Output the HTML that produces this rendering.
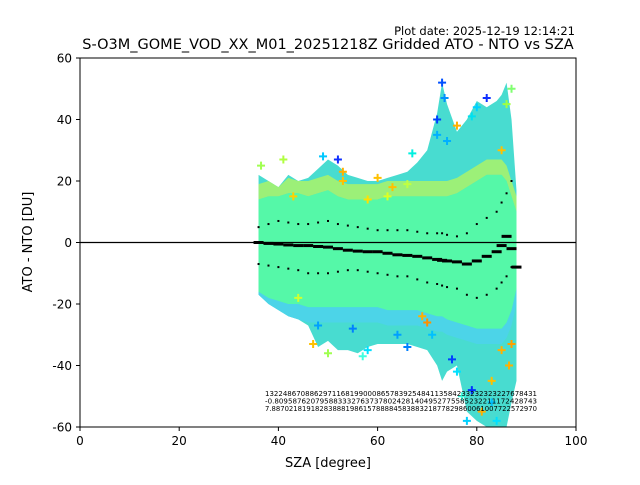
<!DOCTYPE html>
<html><head><meta charset="utf-8"><style>
body{margin:0;background:#fff;font-family:"Liberation Sans","DejaVu Sans",sans-serif}
svg text{font-family:"DejaVu Sans","Liberation Sans",sans-serif}
</style></head><body>
<svg id="c" width="640" height="480" viewBox="0 0 640 480" xmlns="http://www.w3.org/2000/svg">
<rect width="640" height="480" fill="#fff"/>
<text x="575" y="35" font-size="11.5" text-anchor="end">Plot date: 2025-12-19 12:14:21</text>
<text x="328" y="49" font-size="14.5" text-anchor="middle">S-O3M_GOME_VOD_XX_M01_20251218Z Gridded ATO - NTO vs SZA</text>
<g id="plot"></g>
<rect x="80" y="58" width="496" height="369" fill="none" stroke="#000" stroke-width="1"/>
<g id="axes"></g>
<text x="328" y="467" font-size="13" text-anchor="middle">SZA [degree]</text>
<text x="32" y="242" font-size="13" text-anchor="middle" transform="rotate(-90 32 242)">ATO - NTO [DU]</text>
</svg>
<script>
const sza      = [36,38,40,42,44,46,48,50,52,54,56,58,60,62,64,66,68,70,72,73,74,76,78,80,82,84,85,86,87,88];
const upperEnv = [22,20,18,22,20,21,24,27,25,22,21,20,20,21,22,23,26,30,42,52,45,36,40,46,44,46,48,52,40,17];
const lowerEnv = [-17,-20,-22,-24,-25,-27,-34,-32,-35,-35,-36,-34,-33,-33,-33,-33,-34,-35,-40,-45,-42,-40,-55,-58,-60,-60,-60,-60,-52,-45];
const coreUp   = [14,15,15,16,16,15,16,17,15,14,14,14,14,15,15,15,15,15,15,15,15,16,18,20,22,22,22,20,15,10];
const coreLo   = [-16,-18,-19,-20,-20,-21,-21,-21,-21,-21,-21,-21,-21,-22,-22,-22,-22,-23,-24,-24,-25,-26,-27,-28,-28,-28,-28,-26,-22,-15];
const median   = [0,-0.3,-0.5,-0.8,-1,-1,-1.3,-1.5,-2,-2.5,-2.8,-3,-3,-3.5,-4,-4.2,-4.5,-5,-5.5,-5.8,-6,-6.3,-7,-6,-4.5,-3,-1,2,-2,-8];
const stdUp    = [5,6,7,6.5,6,6,6.5,7,6,5.5,5,4.5,4,4,4,4,3.5,3,3,3,2.5,2,3,6,8,10,13,16,20,0];
const stdLo    = [-7,-7.5,-8,-8.5,-9,-10,-10,-10,-9.5,-9,-9,-9.5,-10,-10.5,-11,-11,-12,-13,-13.5,-14,-14.5,-15,-17,-18,-17,-15,-13,-11,-8,0];
const outX = [36.5,41,43,47,49,50,52,53,55,57,58,60,62,64,66,67,69,71,72,73,73.5,74,75,76,77,78,79,80,81,82,83,84,85,86,86.5,87,48,53,58,63,70,72,76,79,83,85,87,44,66];
const outY = [25,27,15,-33,28,-36,27,23,-28,-37,-35,21,15,-30,-34,29,-24,-30,40,52,47,33,-38,-42,-50,-58,41,44,-55,47,-52,-58,30,45,-40,50,-27,20,14,18,-26,35,38,-48,-45,-35,-33,-18,19];
const outC = ["#a0ff50","#b0ff40","#ffd000","#ffc000","#00c8ff","#a0ff50","#1030ff","#ffb000","#0080ff","#40ffe0","#00e0ff","#ffc000","#e0ff20","#00a0ff","#0080ff","#00f0e0","#ffb000","#00c0ff","#0040ff","#0050ff","#0090ff","#00b0ff","#0040ff","#00e0ff","#40ffe0","#00d0ff","#00e0f0","#00d0ff","#ffb000","#1030ff","#00c0ff","#00e0ff","#ffc000","#a0ff40","#ffb000","#80ff70","#00a0ff","#ffc000","#ffe000","#ffc000","#ff9000","#00b0ff","#ffb000","#0030ff","#ffc000","#ffb000","#ffa000","#d0ff30","#c0ff40"];
const xTicks = [0,20,40,60,80,100];
const yTicks = [-60,-40,-20,0,20,40,60];
const statRows = ["1322486708862971168199000865783925484113584233232323227678431","-0.8095876207958833327637378024281404952775585232211172428743","7.8870218191828388819861578888458388321877829860061007722572970"];

const NS="http://www.w3.org/2000/svg";
const X=v=>80+v*4.96, Y=v=>242.5-v*3.075;
const plot=document.getElementById('plot'), axes=document.getElementById('axes');
function mk(t,a,p){const e=document.createElementNS(NS,t);for(const k in a)e.setAttribute(k,a[k]);(p||plot).appendChild(e);return e;}
const clip=mk('clipPath',{id:'cp'});mk('rect',{x:80,y:58,width:496,height:369},clip);
const g=mk('g',{'clip-path':'url(#cp)'});
function band(up,lo,fill,name){
  let d='M'+sza.map((s,i)=>X(s)+','+Y(up[i])).join(' L');
  d+=' L'+sza.slice().reverse().map((s,j)=>{const i=sza.length-1-j;return X(s)+','+Y(lo[i]);}).join(' L')+'Z';
  const p=mk('path',{d:d,fill:fill},g);
  
  
}
band(upperEnv,lowerEnv,'#48dcd0','scatter-outer-cloud');
band(upperEnv.map((u,i)=>Math.min(u,coreUp[i]+5)),coreUp,'#9cf078','scatter-upper-yellow');
band(coreLo,lowerEnv.map((l,i)=>Math.max(l,coreLo[i]-5)),'#4cd4e8','scatter-lower-blue');
band(coreUp,coreLo,'#55f8a8','scatter-core');
outX.forEach((x,i)=>{
  const cx=X(x),cy=Y(outY[i]);
  const m=mk('path',{d:`M${cx-4},${cy}H${cx+4}M${cx},${cy-4}V${cy+4}`,stroke:outC[i],'stroke-width':2},g);
  
  
});
sza.forEach((s,i)=>{
  const m=mk('rect',{x:X(s)-5,y:Y(median[i])-1.5,width:10,height:3,fill:'#000'},g);
  
  
  if(i<sza.length-1){
    [stdUp[i],stdLo[i]].forEach(v=>{
      const d=mk('rect',{x:X(s)-1,y:Y(v)-1,width:2,height:2,fill:'#000'},g);
      
      
    });
  }
});
const zl=mk('line',{x1:80,x2:576,y1:Y(0),y2:Y(0),stroke:'#000','stroke-width':1.2},g);


statRows.forEach((r,i)=>{
  const t=mk('text',{x:265,y:396+i*7.5,'font-size':7,textLength:272,lengthAdjust:'spacingAndGlyphs',fill:'#000'},g);
  t.textContent=r;
  
  
});
xTicks.forEach(v=>{
  mk('line',{x1:X(v),x2:X(v),y1:427,y2:431,stroke:'#000'},axes);
  const t=mk('text',{x:X(v),y:445,'font-size':12,'text-anchor':'middle'},axes);
  t.textContent=v;
  
  
});
yTicks.forEach(v=>{
  mk('line',{x1:76,x2:80,y1:Y(v),y2:Y(v),stroke:'#000'},axes);
  const t=mk('text',{x:72,y:Y(v)+4.5,'font-size':12,'text-anchor':'end'},axes);
  t.textContent=v;
  
  
});
</script>
</body></html>
